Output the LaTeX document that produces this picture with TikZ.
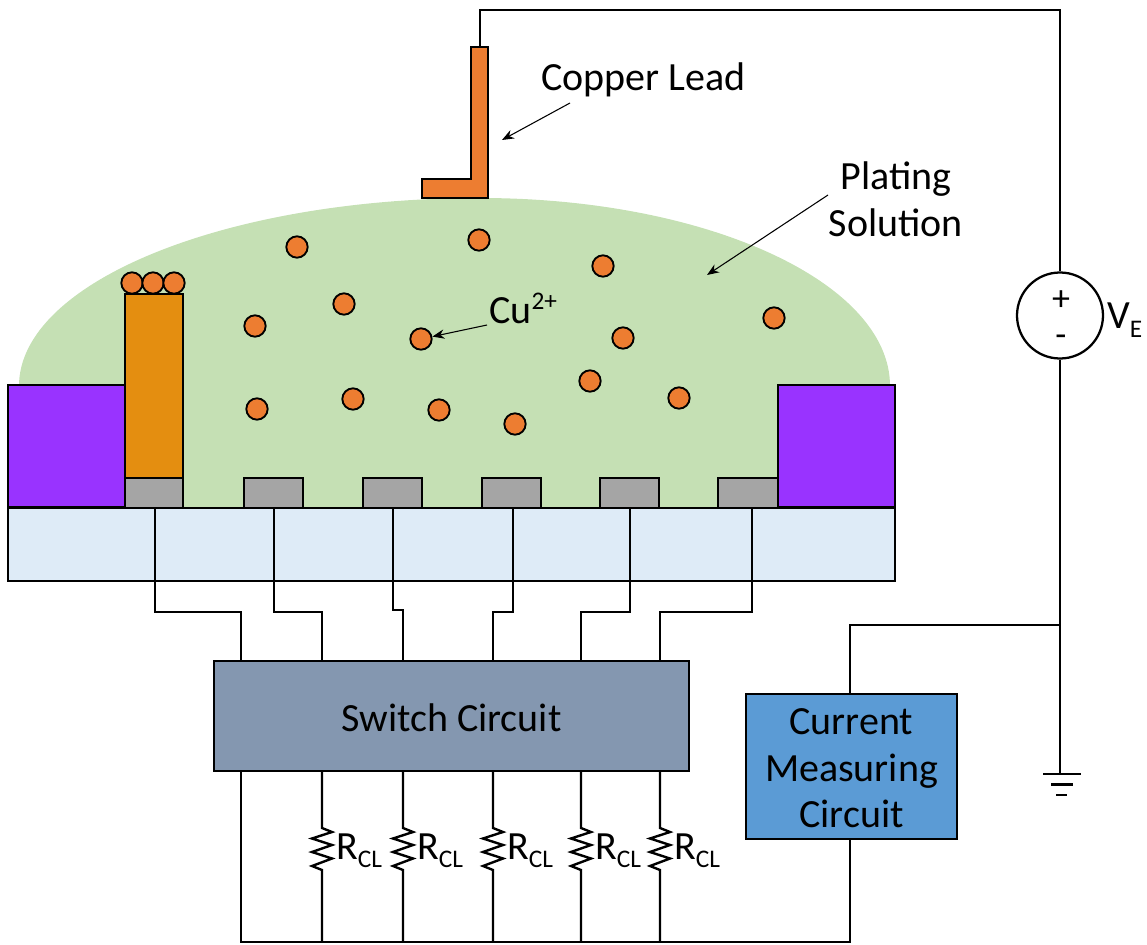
\documentclass[tikz,border=0pt]{standalone}
\usepackage{fontspec}
\setmainfont{Carlito}
\usetikzlibrary{arrows.meta}
\definecolor{sol}{HTML}{C5E0B4}
\definecolor{wall}{HTML}{9933FF}
\definecolor{pillar}{HTML}{E48E10}
\definecolor{pad}{HTML}{A5A5A5}
\definecolor{subst}{HTML}{DEEBF7}
\definecolor{swc}{HTML}{8497B0}
\definecolor{cmc}{HTML}{5B9BD5}
\definecolor{cu}{HTML}{ED7D31}
\tikzset{
  px/.style={x=0.75pt,y=-0.75pt},
  wire/.style={draw=black,line width=2.2pt,line join=miter},
  thin wire/.style={draw=black,line width=1.6pt},
  solid box/.style={draw=black,line width=2.2pt},
  ion/.style={circle,draw=black,line width=1.4pt,fill=cu,minimum size=16pt,inner sep=0pt},
  lbl/.style={font=\fontsize{30}{35}\selectfont,text=black,inner sep=0pt,align=center},
  rl/.style={font=\fontsize{30}{35}\selectfont,text=black,inner sep=0pt,anchor=base west},
  pointer/.style={draw=black,line width=0.8pt,-{Stealth[length=9pt,width=7pt]}},
}
\newcommand{\lowered}[1]{\raisebox{-1.3pt}[\height][\depth]{#1}}
\begin{document}
\begin{tikzpicture}[px]
\useasboundingbox (0,0) rectangle (1147,945);
% plating solution
\fill[sol] (19,386) arc[start angle=180,end angle=270,x radius=461,y radius=188] arc[start angle=270,end angle=360,x radius=410,y radius=188] -- (890,508) -- (19,508) -- cycle;
% substrate and side walls
\filldraw[fill=subst,thin wire] (8,508) rectangle (895,581);
\filldraw[fill=wall,solid box] (8,385) rectangle (125,507);
\filldraw[fill=wall,solid box] (778,385) rectangle (895,507);
\filldraw[fill=pillar,thin wire] (125,294) rectangle (183,478);
% pads
\foreach \n/\a/\b in {1/125/183,2/244/303,3/363/422,4/482/541,5/600/659,6/718/778}{
  \filldraw[fill=pad,thin wire] (\a,478) rectangle (\b,508);
}
\draw[thin wire] (8,508) -- (895,508);
% copper lead
\filldraw[fill=cu,thin wire] (471,47) -- (488,47) -- (488,198) -- (422,198) -- (422,179) -- (471,179) -- cycle;
% ions
\foreach \n/\x/\y in {a/297/247,b/479/240,c/603/266,d/344/304,e/255/326,f/421/339,g/623/338,h/774/318,i/590/381,j/679/398,k/257/409,l/353/399,m/439/410,n/515/424,o/132/283,p/153/283,q/174/283}{
  \node[ion] (ion\n) at (\x,\y) {};
}
% boxes
\node[draw=black,line width=1.6pt,fill=swc,minimum width=356.25pt,minimum height=82.5pt,inner sep=0pt,lbl] (sw) at (451.5,716) {\lowered{Switch Circuit}};
\node[draw=black,line width=1.6pt,fill=cmc,minimum width=158.25pt,minimum height=108.75pt,inner sep=0pt,lbl] (cm) at (851.5,766.5) {\lowered{Current}\\\lowered{Measuring}\\\lowered{Circuit}};
% pins
\foreach \n/\x/\px/\y in {1/155/241/612,2/274/322/612,3/393/403/610,4/513/493/612,5/630/581/612,6/752/660/612}{
  \coordinate (top\n) at (\x,508);
  \coordinate (pin\n) at (\px,661);
  \draw[wire] (top\n) -- (\x,\y) -- (\px,\y) -- (pin\n);
}
% bottom rail
\coordinate (c1) at (241,771);
\coordinate (b1) at (241,942);
\coordinate (b2) at (850,942);
\coordinate (cmb) at (850,839);
\draw[wire] (c1) -- (b1) -- (b2) -- (cmb);
% limiting resistors
\foreach \n/\x in {1/322,2/403,3/493,4/581,5/660}{
  \coordinate (rt\n) at (\x,771);
  \coordinate (rb\n) at (\x,942);
  \draw[wire,line width=1.8pt] (rt\n) -- (\x,828) -- (\x+10,832) -- (\x-10,838.5) -- (\x+10,845) -- (\x-10,852) -- (\x+10,858.5) -- (\x-10,866) -- (\x,870) -- (rb\n);
  \node[rl] (rl\n) at (\x+14,859) {R\raisebox{-6.5pt}{\fontsize{19}{21}\selectfont CL}};
}
% source wiring
\node[circle,draw=black,line width=1.7pt,fill=white,minimum size=64.5pt,inner sep=0pt] (ve) at (1060,315.5) {};
\node[font=\fontsize{27}{32}\selectfont,inner sep=0pt] (plus) at (1061,301) {+};
\node[font=\fontsize{27}{32}\selectfont,inner sep=0pt] (minus) at (1061,341) {-};
\node[rl] (velab) at (1107,329) {V\raisebox{-6.5pt}{\fontsize{19}{21}\selectfont E}};
\coordinate (leadtop) at (480,47);
\coordinate (j1) at (1060,625);
\coordinate (gnd) at (1060,774);
\draw[wire] (leadtop) -- (480,10) -- (1060,10) -- (ve.north);
\draw[wire] (ve.south) -- (gnd);
\draw[wire] (j1) -- (850,625) -- (cm.north -| 850,694);
\draw[wire] (1043,774) -- (1081,774);
\draw[wire] (1051,784.5) -- (1073,784.5);
\draw[wire] (1056,795) -- (1067,795);
% labels
\node[lbl,anchor=west] (lead) at (541,80) {Copper Lead};
\node[lbl] (plate) at (896,199) {Plating\\Solution};
\node[lbl,anchor=base west] (culab) at (489,324) {Cu\raisebox{0.75ex}{\fontsize{19}{21}\selectfont 2+}};
% pointers
\coordinate (pa) at (502,140);
\coordinate (pb) at (707,275);
\draw[pointer] (570,103) -- (pa);
\draw[pointer] (828,195) -- (pb);
\draw[pointer] (487,325) -- (ionf);
\end{tikzpicture}
\end{document}
